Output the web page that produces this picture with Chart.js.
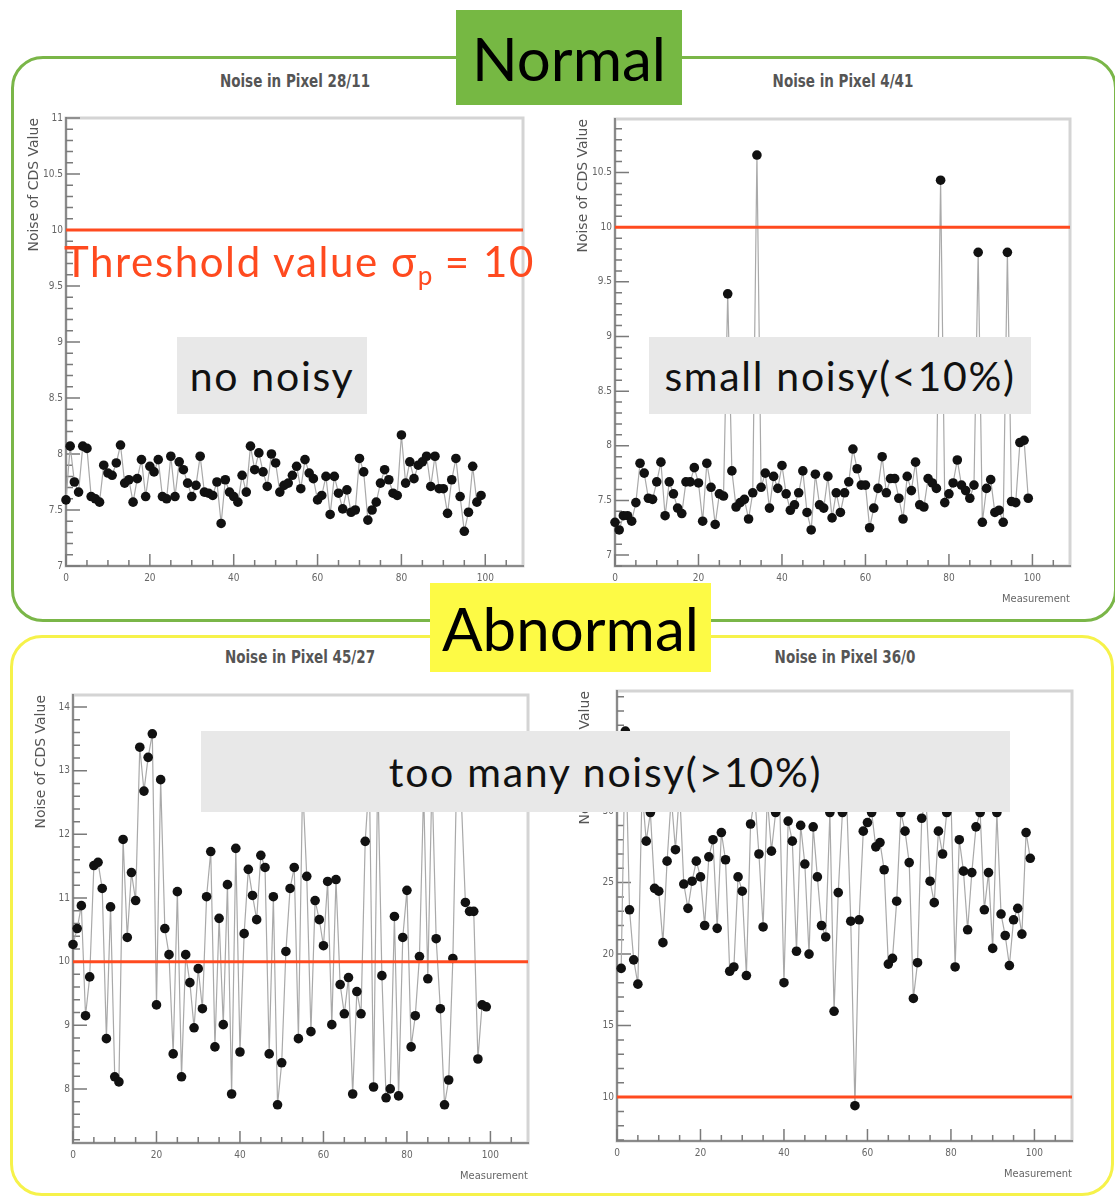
<!DOCTYPE html>
<html>
<head>
<meta charset="utf-8">
<script src="https://cdn.jsdelivr.net/npm/chart.js@4.4.0/dist/chart.umd.min.js"></script>
<style>
body { margin:0; width:1115px; height:1197px; position:relative; overflow:hidden; background:#fff; font-family: Lato, "Open Sans", sans-serif; }
.frame { position:absolute; border-radius:32px; box-sizing:border-box; z-index:1; }
#greenFrame { left:11px; top:56px; width:1106px; height:566px; border:3px solid #7ab648; }
#yellowFrame { left:10px; top:635px; width:1104px; height:561px; border:3px solid #f6f24a; }
canvas { position:absolute; z-index:2; }
.ptitle { position:absolute; z-index:3; transform:translateX(-50%) scaleY(1.15); font: bold 15px "Liberation Sans Narrow","DejaVu Sans Condensed",sans-serif; color:#555; white-space:nowrap; }
.tag { position:absolute; z-index:4; display:flex; align-items:center; justify-content:center; font-size:60px; color:#000; }
.note { position:absolute; z-index:5; background:#e8e8e8; display:flex; align-items:center; justify-content:center; color:#111; white-space:nowrap; font-size:41px; letter-spacing:1.7px; }
#thr { position:absolute; z-index:5; left:64px; top:240px; color:#ff4a1f; font-size:42px; letter-spacing:1.6px; white-space:nowrap; line-height:1; }
#thr sub { font-size:0.62em; vertical-align:-0.3em; letter-spacing:0; }
</style>
</head>
<body>
<div class="frame" id="greenFrame"></div>
<div class="frame" id="yellowFrame"></div>

<div class="ptitle" style="left:295px;top:72px">Noise in Pixel 28/11</div>
<div class="ptitle" style="left:843px;top:72px">Noise in Pixel 4/41</div>
<div class="ptitle" style="left:300px;top:648px">Noise in Pixel 45/27</div>
<div class="ptitle" style="left:845px;top:648px">Noise in Pixel 36/0</div>

<div class="tag" style="left:456px;top:10px;width:226px;height:95px;background:#76b843">Normal</div>
<div class="tag" style="left:430px;top:583px;width:281px;height:89px;background:#fdfa45">Abnormal</div>

<div id="thr">Threshold value σ<sub>p</sub> = 10</div>
<div class="note" style="left:177px;top:337px;width:190px;height:77px">no noisy</div>
<div class="note" style="left:649px;top:337px;width:382px;height:77px">small noisy(&lt;10%)</div>
<div class="note" style="left:201px;top:731px;width:809px;height:81px">too many noisy(&gt;10%)</div>

<script>
// axes
var measurementRange = [0, 109];
var measurementStep = 20;
var thresholdSigma = 10;

// Noise of CDS value per measurement
var noisePixel28_11 = [
  7.59,8.07,7.75,7.66,8.07,8.05,7.62,7.60,7.57,7.90,
  7.83,7.81,7.92,8.08,7.74,7.77,7.57,7.78,7.95,7.62,
  7.89,7.84,7.95,7.62,7.60,7.98,7.62,7.93,7.86,7.74,
  7.62,7.72,7.98,7.66,7.65,7.63,7.75,7.38,7.77,7.66,
  7.62,7.57,7.81,7.66,8.07,7.86,8.01,7.84,7.71,8.00,
  7.92,7.66,7.72,7.74,7.81,7.89,7.69,7.95,7.83,7.78,
  7.59,7.63,7.80,7.46,7.80,7.65,7.51,7.68,7.48,7.50,
  7.96,7.84,7.41,7.50,7.57,7.74,7.86,7.77,7.65,7.63,
  8.17,7.74,7.93,7.78,7.90,7.93,7.98,7.71,7.98,7.69,
  7.69,7.47,7.77,7.96,7.62,7.31,7.48,7.89,7.57,7.63
];
var noisePixel4_41 = [
  7.30,7.23,7.36,7.36,7.31,7.48,7.84,7.75,7.52,7.51,
  7.67,7.85,7.36,7.67,7.56,7.43,7.38,7.67,7.67,7.80,
  7.66,7.31,7.84,7.62,7.28,7.56,7.54,9.39,7.77,7.44,
  7.48,7.51,7.33,7.57,10.66,7.62,7.75,7.43,7.72,7.61,
  7.82,7.56,7.41,7.46,7.57,7.77,7.39,7.23,7.74,7.46,
  7.43,7.72,7.34,7.57,7.39,7.57,7.67,7.97,7.79,7.64,
  7.64,7.25,7.43,7.61,7.90,7.57,7.70,7.70,7.52,7.33,
  7.72,7.59,7.85,7.46,7.44,7.70,7.66,7.61,10.43,7.48,
  7.56,7.66,7.87,7.64,7.59,7.52,7.64,9.77,7.30,7.61,
  7.69,7.39,7.41,7.30,9.77,7.49,7.48,8.03,8.05,7.52
];
var noisePixel45_27 = [
  10.27,10.52,10.88,9.15,9.76,11.51,11.56,11.15,8.79,10.86,
  8.19,8.11,11.92,10.38,11.40,10.96,13.37,12.68,13.21,13.58,
  9.32,12.86,10.52,10.11,8.55,11.10,8.19,10.11,9.67,8.96,
  9.89,9.26,11.02,11.73,8.66,10.68,9.01,11.21,7.92,11.78,
  8.58,10.44,11.45,11.04,10.66,11.67,11.48,8.55,11.02,7.75,
  8.41,10.16,11.15,11.48,8.79,12.80,11.34,8.90,10.96,10.66,
  10.25,11.26,9.01,11.29,9.64,9.18,9.75,7.92,9.53,9.18,
  11.89,12.90,8.03,13.00,9.78,7.86,8.00,10.71,7.89,10.38,
  11.12,8.66,9.15,10.08,12.70,9.73,12.90,10.36,9.26,7.75,
  8.14,10.05,13.20,12.60,10.93,10.79,10.79,8.47,9.32,9.29
];
// starts at measurement 1
var noisePixel36_0 = [
  19.0,35.6,23.1,19.6,17.9,31.5,27.9,29.9,24.6,24.4,
  20.8,26.5,31.0,27.3,31.5,24.9,23.2,25.1,26.5,25.4,
  22.0,26.8,28.0,21.8,28.5,26.6,18.8,19.1,25.4,24.4,
  18.5,29.1,31.0,27.0,21.9,31.0,27.2,29.9,30.5,18.0,
  29.3,27.9,20.2,29.0,26.3,20.0,28.9,25.4,22.0,21.2,
  29.9,16.0,24.3,29.9,31.0,22.3,9.4,22.4,28.6,29.2,
  29.9,27.5,27.8,25.9,19.3,19.7,23.7,29.9,28.6,26.4,
  16.9,19.4,29.5,31.0,25.1,23.6,28.6,27.0,29.9,31.0,
  19.1,28.0,25.8,21.7,25.7,28.9,29.9,23.1,25.7,20.4,
  29.9,22.8,21.3,19.2,22.4,23.2,21.4,28.5,26.7
];

var yRange28_11 = [7, 11], yStep28_11 = 0.5;
var yRange4_41 = [6.9, 10.99], yStep4_41 = 0.5;
var yRange45_27 = [7.15, 14.19], yStep45_27 = 1;
var yRange36_0 = [6.93, 38.4], yStep36_0 = 5;

var FONT_AXIS = '"Liberation Sans Narrow","DejaVu Sans Condensed",sans-serif';

// ROOT style: light frame + inner tick marks
var rootFrame = {
    id: 'rootFrame',
    beforeDraw: function(chart) {
        var a = chart.chartArea, ctx = chart.ctx;
        ctx.save();
        ctx.strokeStyle = '#d4d4d4';
        ctx.lineWidth = 3;
        ctx.strokeRect(a.left, a.top, a.right - a.left, a.bottom - a.top);
        ctx.restore();
    },
    beforeDatasetsDraw: function(chart, args, o) {
        var a = chart.chartArea, ctx = chart.ctx;
        var x = chart.scales.x, y = chart.scales.y;
        ctx.save();
        ctx.strokeStyle = '#7a7a7a';
        ctx.lineWidth = 1.5;
        ctx.beginPath();
        var every = Math.round(o.xMajor / o.xMinor);
        for (var k = Math.ceil(x.min / o.xMinor); k * o.xMinor <= x.max + 1e-9; k++) {
            var px = x.getPixelForValue(k * o.xMinor);
            var len = (k % every === 0) ? 12 : 6;
            ctx.moveTo(px, a.bottom);
            ctx.lineTo(px, a.bottom - len);
        }
        every = Math.round(o.yMajor / o.yMinor);
        for (var j = Math.ceil(y.min / o.yMinor - 1e-9); j * o.yMinor <= y.max + 1e-9; j++) {
            var py = y.getPixelForValue(j * o.yMinor);
            var ln = (j % every === 0) ? 14 : 7;
            ctx.moveTo(a.left, py);
            ctx.lineTo(a.left + ln, py);
        }
        ctx.stroke();
        ctx.restore();
    }
};

function plainNumber(v) {
    return String(Number(v.toFixed(3)));
}

function drawPanel(area, values, firstX, yRange, yStep, yMinor) {
    var cv = document.createElement('canvas');
    var w = (area.r - area.l) + 48, h = (area.b - area.t) + 8 + 42;
    cv.width = w; cv.height = h;
    cv.style.left = (area.l - 40) + 'px';
    cv.style.top = (area.t - 8) + 'px';
    cv.style.width = w + 'px';
    cv.style.height = h + 'px';
    document.body.appendChild(cv);

    var points = values.map(function(v, i) { return { x: i + firstX, y: v }; });

    return new Chart(cv, {
        type: 'line',
        data: {
            datasets: [{
                data: [{ x: measurementRange[0], y: thresholdSigma }, { x: measurementRange[1], y: thresholdSigma }],
                borderColor: '#ff4a1f',
                borderWidth: 3,
                pointRadius: 0
            }, {
                data: points,
                borderColor: '#a9a9a9',
                borderWidth: 1.2,
                pointRadius: 4.8,
                pointBackgroundColor: '#111',
                pointBorderColor: '#111',
                pointBorderWidth: 0,
                tension: 0,
                clip: false
            }]
        },
        options: {
            responsive: false,
            animation: false,
            devicePixelRatio: 1,
            layout: { padding: { top: 8, right: 8, left: 0, bottom: 0 } },
            plugins: {
                legend: { display: false },
                tooltip: { enabled: false },
                rootFrame: { xMajor: measurementStep, xMinor: 5, yMajor: yStep, yMinor: yMinor }
            },
            scales: {
                x: {
                    type: 'linear',
                    min: measurementRange[0],
                    max: measurementRange[1],
                    afterFit: function(s) { s.height = 42; },
                    grid: { display: false, drawTicks: false },
                    border: { color: '#8a8a8a', width: 2 },
                    ticks: { stepSize: measurementStep, includeBounds: false, autoSkip: false, maxRotation: 0,
                             padding: 6, color: '#666', font: { size: 10, family: FONT_AXIS },
                             callback: plainNumber },
                    title: { display: true, text: 'Measurement', align: 'end', color: '#666',
                             font: { size: 11, family: FONT_AXIS }, padding: { top: 0, bottom: 2 } }
                },
                y: {
                    type: 'linear',
                    min: yRange[0],
                    max: yRange[1],
                    afterFit: function(s) { s.width = 40; },
                    grid: { display: false, drawTicks: false },
                    border: { color: '#8a8a8a', width: 2 },
                    ticks: { stepSize: yStep, includeBounds: false, autoSkip: false,
                             padding: 3, color: '#666', font: { size: 10, family: FONT_AXIS },
                             callback: plainNumber },
                    title: { display: true, text: 'Noise of CDS Value', align: 'end', color: '#555',
                             font: { size: 14, family: '"DejaVu Sans",sans-serif' },
                             padding: { top: 0, bottom: 0 } }
                }
            }
        },
        plugins: [rootFrame]
    });
}

drawPanel({ l: 66, t: 117, r: 523, b: 566 }, noisePixel28_11, 0, yRange28_11, yStep28_11, 0.1);
drawPanel({ l: 615, t: 118, r: 1070, b: 566 }, noisePixel4_41, 0, yRange4_41, yStep4_41, 0.1);
drawPanel({ l: 73, t: 694, r: 528, b: 1143 }, noisePixel45_27, 0, yRange45_27, yStep45_27, 0.2);
drawPanel({ l: 617, t: 690, r: 1072, b: 1141 }, noisePixel36_0, 1, yRange36_0, yStep36_0, 1);
</script>
</body>
</html>
